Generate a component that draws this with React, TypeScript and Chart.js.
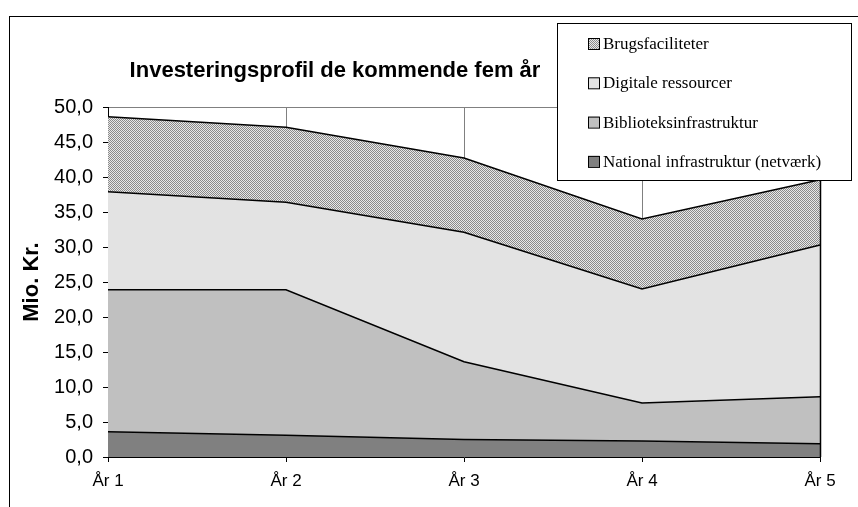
import React, { useEffect, useRef } from 'react';
import { Chart, registerables } from 'chart.js';
Chart.register(...registerables);

const categories = ['År 1', 'År 2', 'År 3', 'År 4', 'År 5'];
const nationalInfra = [3.6, 3.1, 2.5, 2.3, 1.9];
const biblioteksInfra = [20.3, 20.8, 11.1, 5.4, 6.7];
const digitaleRes = [14.0, 12.5, 18.5, 16.3, 21.7];
const brugsFac = [10.7, 10.7, 10.6, 10.0, 9.3];
const seriesNames = [
  'National infrastruktur (netværk)',
  'Biblioteksinfrastruktur',
  'Digitale ressourcer',
  'Brugsfaciliteter',
];
const chartTitle = 'Investeringsprofil de kommende fem år';
const yAxisTitle = 'Mio. Kr.';
const yMin = 0;
const yMax = 50;
const yStep = 5;

const SANS = '"Liberation Sans", Arial, sans-serif';
const SERIF = '"Liberation Serif", "Times New Roman", serif';

function makeHatch(): CanvasPattern | string {
  const c = document.createElement('canvas');
  c.width = 2;
  c.height = 2;
  const g = c.getContext('2d');
  if (!g) return '#b0b0b0';
  g.fillStyle = '#e8e8e8';
  g.fillRect(0, 0, 2, 2);
  g.fillStyle = '#8a8a8a';
  g.fillRect(0, 0, 1, 1);
  g.fillRect(1, 1, 1, 1);
  const p = g.createPattern(c, 'repeat');
  return p || '#b0b0b0';
}

export default function App() {
  const ref = useRef<HTMLCanvasElement | null>(null);
  useEffect(() => {
    if (!ref.current) return;
    const hatch = makeHatch();
    const fills = ['#808080', '#c0c0c0', '#e3e3e3', hatch];
    const dataSets = [nationalInfra, biblioteksInfra, digitaleRes, brugsFac];

    const framePlugin = {
      id: 'frame',
      beforeDraw(chart: any) {
        const ctx = chart.ctx;
        ctx.save();
        ctx.fillStyle = '#ffffff';
        ctx.fillRect(0, 0, chart.width, chart.height);
        ctx.strokeStyle = '#000000';
        ctx.lineWidth = 1;
        ctx.strokeRect(9.5, 16.5, chart.width + 20, chart.height + 20);
        ctx.restore();
      },
      afterDatasetsDraw(chart: any) {
        const ctx = chart.ctx;
        const xs = chart.scales.x;
        const ys = chart.scales.y;
        const last = categories.length - 1;
        const total = dataSets.reduce((s, arr) => s + arr[last], 0);
        const x = Math.round(xs.getPixelForValue(last)) + 0.5;
        ctx.save();
        ctx.strokeStyle = '#000000';
        ctx.lineWidth = 1.5;
        ctx.beginPath();
        ctx.moveTo(x, ys.getPixelForValue(total));
        ctx.lineTo(x, ys.getPixelForValue(0));
        ctx.stroke();
        ctx.restore();
      },
      afterDraw(chart: any) {
        const ctx = chart.ctx;
        ctx.save();
        // title
        ctx.fillStyle = '#000000';
        ctx.font = 'bold 22px ' + SANS;
        ctx.textAlign = 'center';
        ctx.textBaseline = 'alphabetic';
        ctx.fillText(chartTitle, 335, 77);
        // legend
        const lx = 557.5, ly = 23.5, lw = 294, lh = 157;
        ctx.fillStyle = '#ffffff';
        ctx.fillRect(lx, ly, lw, lh);
        ctx.strokeStyle = '#000000';
        ctx.lineWidth = 1;
        ctx.strokeRect(lx, ly, lw, lh);
        ctx.font = '17px ' + SERIF;
        ctx.textAlign = 'left';
        ctx.textBaseline = 'alphabetic';
        const order = [3, 2, 1, 0];
        order.forEach((si, i) => {
          const base = 49 + i * 39.3;
          ctx.fillStyle = fills[si] as any;
          ctx.fillRect(588, base - 11, 11, 11);
          ctx.strokeStyle = '#000000';
          ctx.lineWidth = 1;
          ctx.strokeRect(588.5, base - 10.5, 11, 11);
          ctx.fillStyle = '#000000';
          ctx.fillText(seriesNames[si], 603, base);
        });
        ctx.restore();
      },
    };

    const chart = new Chart(ref.current, {
      type: 'line',
      data: {
        labels: categories,
        datasets: dataSets.map((d, i) => ({
          label: seriesNames[i],
          data: d,
          backgroundColor: fills[i] as any,
          borderColor: '#000000',
          borderWidth: 1.5,
          pointRadius: 0,
          tension: 0,
          fill: i === 0 ? 'origin' : '-1',
        })),
      },
      options: {
        animation: false,
        responsive: true,
        maintainAspectRatio: false,
        layout: { padding: { top: 107, right: 38, bottom: 0, left: 0 } },
        plugins: {
          legend: { display: false },
          title: { display: false },
          tooltip: { enabled: false },
        },
        scales: {
          x: {
            offset: false,
            grid: {
              color: (c: any) => (c.index === 0 ? 'rgba(0,0,0,0)' : '#808080'),
              tickColor: '#000000',
              tickLength: 5,
              lineWidth: 1,
            },
            border: { color: '#000000', width: 1 },
            ticks: {
              color: '#000000',
              font: { family: SANS, size: 17 },
              padding: 9,
              maxRotation: 0,
              autoSkip: false,
            },
            afterFit: (s: any) => {
              s.height = 50;
            },
          },
          y: {
            stacked: true,
            min: yMin,
            max: yMax,
            grid: {
              color: (c: any) => (c.tick && c.tick.value === yMax ? '#808080' : 'rgba(0,0,0,0)'),
              tickColor: '#000000',
              tickLength: 5,
            },
            border: { color: '#000000', width: 1 },
            ticks: {
              stepSize: yStep,
              color: '#000000',
              font: { family: SANS, size: 20 },
              padding: 10,
              callback: (v: any) => Number(v).toFixed(1).replace('.', ','),
            },
            title: {
              display: true,
              text: yAxisTitle,
              color: '#000000',
              font: { family: SANS, size: 22, weight: 'bold' },
              padding: { top: 19, bottom: 0 },
            },
            afterFit: (s: any) => {
              s.width = 108;
            },
          },
        },
      },
      plugins: [framePlugin],
    });
    return () => chart.destroy();
  }, []);

  return (
    <div style={{ position: 'fixed', left: 0, top: 0, width: 858, height: 507 }}>
      <canvas ref={ref} />
    </div>
  );
}
